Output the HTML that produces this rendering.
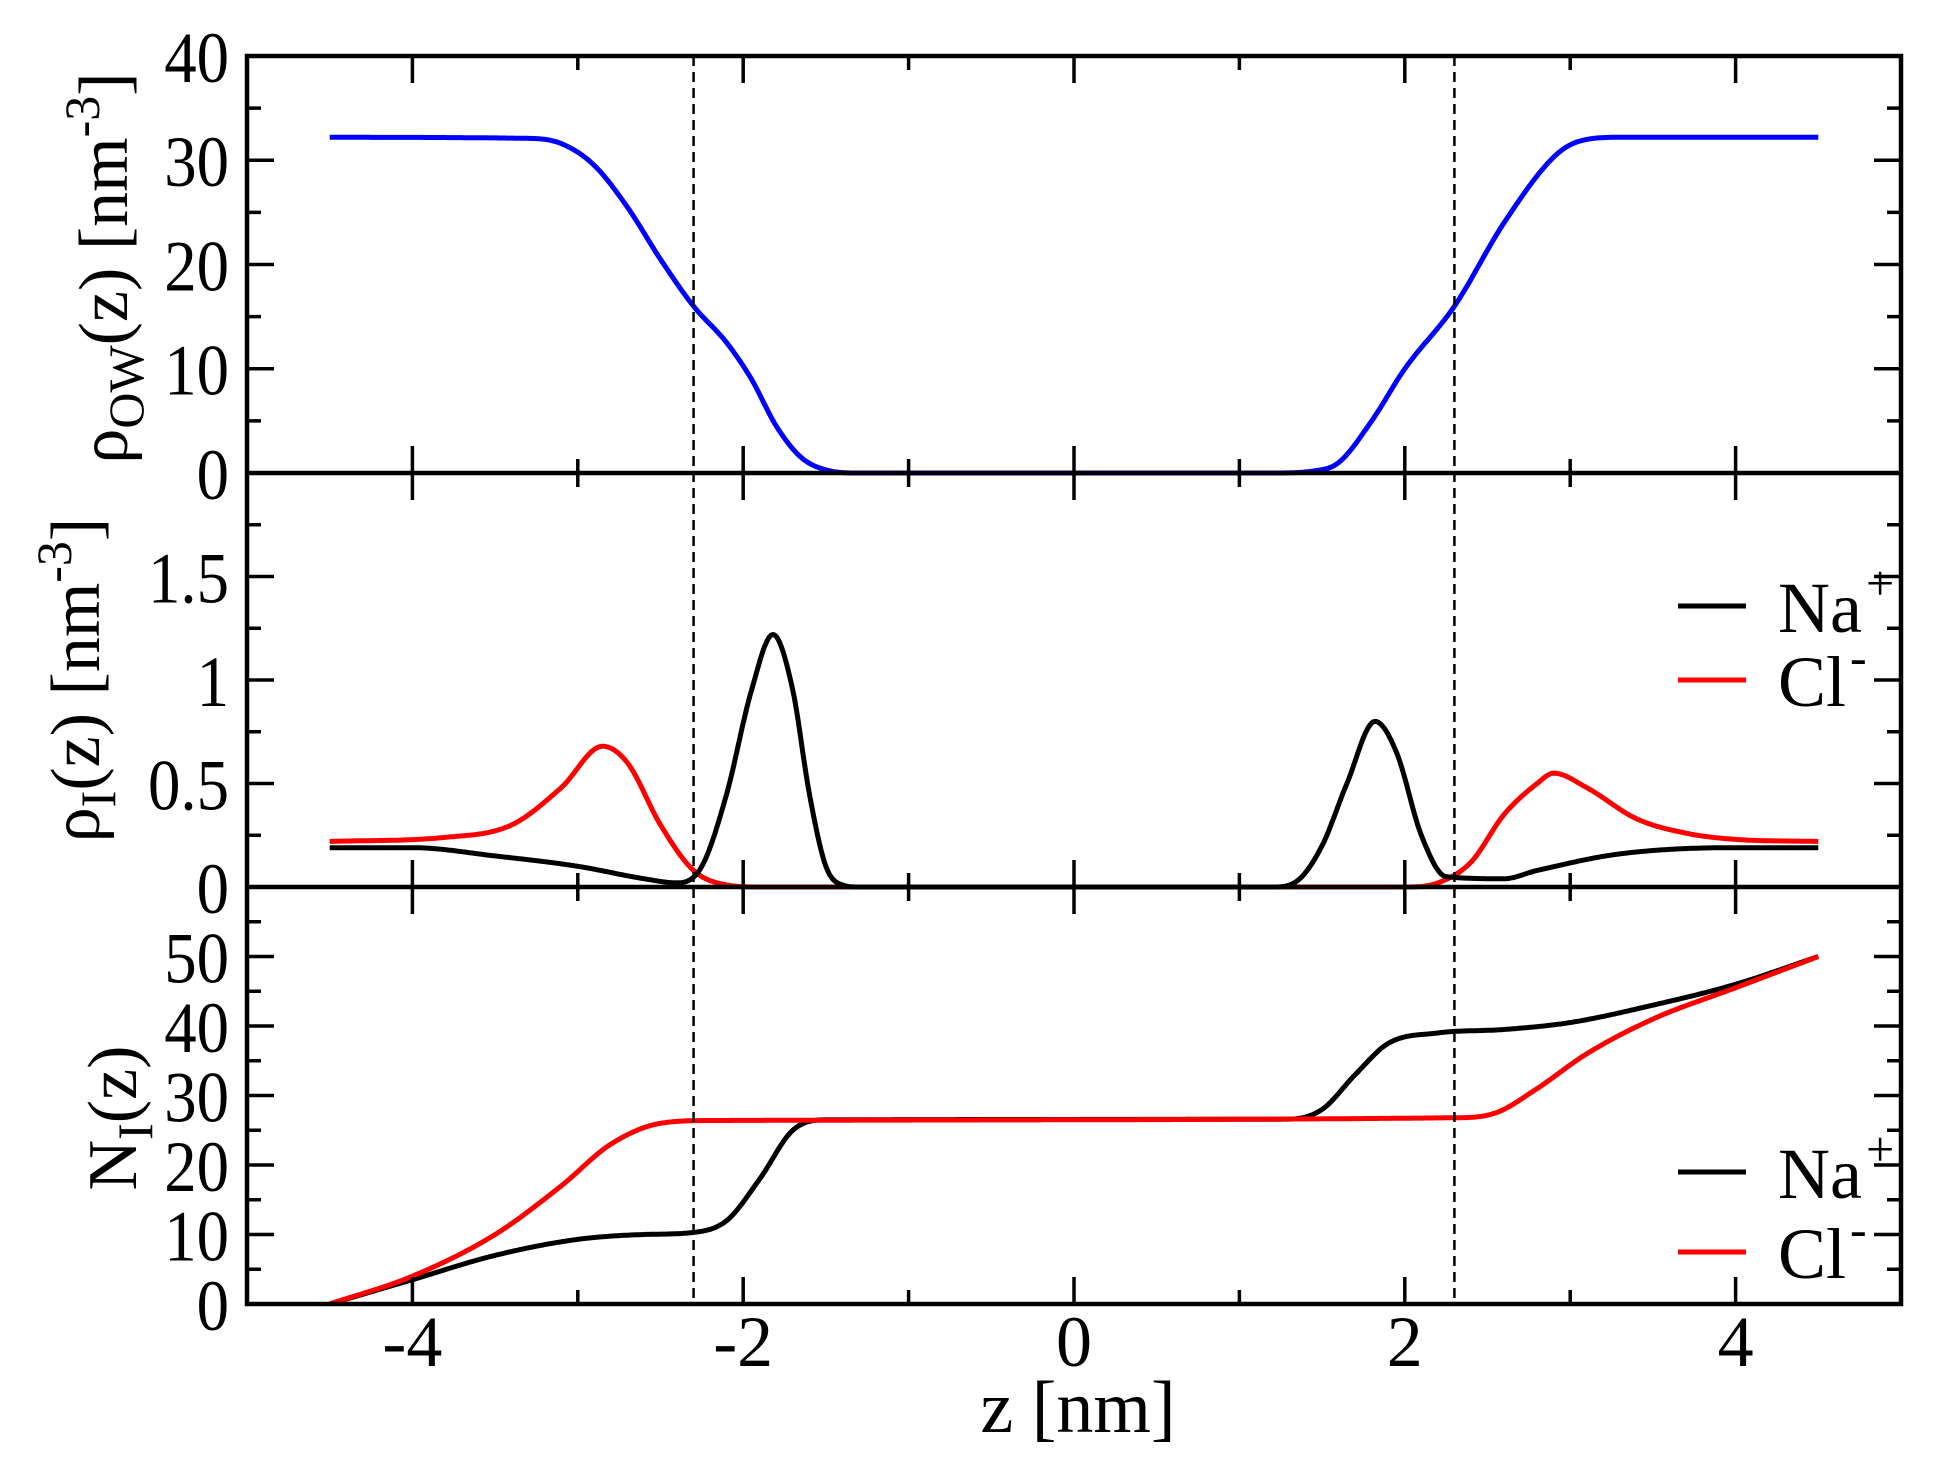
<!DOCTYPE html>
<html><head><meta charset="utf-8"><style>
html,body{margin:0;padding:0;background:#fff}
svg text{font-family:"Liberation Serif",serif;fill:#000}
</style></head><body>
<svg id="s" width="1938" height="1465" viewBox="0 0 1938 1465" xmlns="http://www.w3.org/2000/svg"></svg>
<script>
const S=document.getElementById('s');
const L=247,R=1901;
const X=z=>L+(z+5)*(R-L)/10;
const P=[{t:56,b:473,max:40},{t:473,b:887,max:2},{t:887,b:1304,max:60}];
const Y=(p,v)=>P[p].b-v/P[p].max*(P[p].b-P[p].t);
let h='';
function mono(pts){
  const n=pts.length,xs=pts.map(p=>p[0]),ys=pts.map(p=>p[1]);
  const d=[],m=[];
  for(let i=0;i<n-1;i++)d.push((ys[i+1]-ys[i])/(xs[i+1]-xs[i]));
  m[0]=d[0];m[n-1]=d[n-2];
  for(let i=1;i<n-1;i++){m[i]=(d[i-1]*d[i]<=0)?0:(d[i-1]+d[i])/2;}
  for(let i=0;i<n-1;i++){
    if(d[i]==0){m[i]=0;m[i+1]=0;continue;}
    const a=m[i]/d[i],b=m[i+1]/d[i],s=a*a+b*b;
    if(s>9){const t=3/Math.sqrt(s);m[i]=t*a*d[i];m[i+1]=t*b*d[i];}
  }
  return z=>{
    let i=0;while(i<n-2&&z>xs[i+1])i++;
    const hh=xs[i+1]-xs[i],t=(z-xs[i])/hh,t2=t*t,t3=t2*t;
    return (2*t3-3*t2+1)*ys[i]+(t3-2*t2+t)*hh*m[i]+(-2*t3+3*t2)*ys[i+1]+(t3-t2)*hh*m[i+1];
  };
}
function cr(pts,p,col){
  const f=mono(pts);let d='';
  for(let z=pts[0][0];z<=pts[pts.length-1][0]+1e-9;z+=0.01){
    let v=f(z);if(v<0)v=0;
    d+=(d?'L':'M')+X(z).toFixed(1)+' '+Y(p,v).toFixed(1);
  }
  h+=`<path d="${d}" fill="none" stroke="${col}" stroke-width="5" stroke-linejoin="round"/>`;
}
const W=[[-4.5,32.2],[-3.3,32.1],[-3.1,31.6],[-2.9,29.5],[-2.7,25.5],[-2.5,20.5],[-2.3,16],[-2.1,12.5],[-1.95,9],[-1.8,4.5],[-1.65,1.5],[-1.5,0.3],[-1.3,0],[1.2,0],[1.45,0.2],[1.6,1],[1.8,5],[2.0,10],[2.3,16],[2.6,24],[2.9,30.3],[3.05,31.8],[3.3,32.2],[4.5,32.2]];
cr(W,0,'#0000ff');
const NaD=[[-4.5,0.19],[-4,0.19],[-3.5,0.15],[-3,0.1],[-2.6,0.04],[-2.4,0.02],[-2.25,0.1],[-2.1,0.45],[-1.95,0.95],[-1.82,1.22],[-1.7,0.95],[-1.6,0.45],[-1.5,0.1],[-1.4,0.01],[-1.3,0],[1.2,0],[1.35,0.03],[1.5,0.2],[1.65,0.5],[1.82,0.8],[1.95,0.65],[2.1,0.25],[2.25,0.05],[2.6,0.04],[2.8,0.08],[3.3,0.16],[4,0.19],[4.5,0.19]];
const ClD=[[-4.5,0.22],[-3.8,0.24],[-3.4,0.3],[-3.1,0.48],[-2.85,0.68],[-2.7,0.6],[-2.5,0.3],[-2.3,0.08],[-2.1,0.01],[-1.9,0],[2.0,0],[2.2,0.02],[2.4,0.12],[2.6,0.35],[2.8,0.5],[2.9,0.55],[3.1,0.48],[3.4,0.33],[3.7,0.26],[4,0.23],[4.5,0.22]];
cr(ClD,1,'#ff0000');cr(NaD,1,'#000');
const NNa=[[-4.5,0],[-4,3.5],[-3.5,7],[-3,9.3],[-2.6,10],[-2.3,10.3],[-2.1,12],[-1.9,18],[-1.7,25],[-1.5,26.5],[1.3,26.6],[1.5,28],[1.7,33],[1.9,37.5],[2.2,39],[2.6,39.5],[3,40.5],[3.5,43],[4,46],[4.5,50]];
const NCl=[[-4.5,0],[-4,4],[-3.5,10],[-3.1,17],[-2.8,23],[-2.5,26],[-2.2,26.4],[2.3,26.8],[2.55,27.5],[2.8,31],[3.1,36],[3.5,41],[4,45.5],[4.5,50]];
cr(NNa,2,'#000');cr(NCl,2,'#ff0000');
[-2.3,2.3].forEach(z=>h+=`<line x1="${X(z)}" y1="56" x2="${X(z)}" y2="1304" stroke="#000" stroke-width="2.5" stroke-dasharray="10,6"/>`);
function yt(p,maj,min,lab){
  const m=P[p].max;
  for(let k=0;k*min<=m+1e-9;k++){
    const v=k*min;
    const isM=Math.abs(v/maj-Math.round(v/maj))<1e-6, l=isM?27:14, y=Y(p,v);
    h+=`<line x1="${L}" y1="${y}" x2="${L+l}" y2="${y}" stroke="#000" stroke-width="3.5"/><line x1="${R}" y1="${y}" x2="${R-l}" y2="${y}" stroke="#000" stroke-width="3.5"/>`;
    if(isM&&!(p>0&&v>=m-1e-9)){
      h+=`<text x="229" y="${y+26}" font-size="72" text-anchor="end" transform="translate(229 0) scale(0.9 1) translate(-229 0)">${lab(v)}</text>`;}
  }
}
yt(0,10,5,v=>v);yt(1,0.5,0.25,v=>String(v));yt(2,10,5,v=>v);
[56,473,887,1304].forEach((y,i)=>{
  for(let z=-5;z<=5;z++){
    const l=z%2==0?27:14;
    if(i>0)h+=`<line x1="${X(z)}" y1="${y}" x2="${X(z)}" y2="${y-l}" stroke="#000" stroke-width="3.5"/>`;
    if(i<3)h+=`<line x1="${X(z)}" y1="${y}" x2="${X(z)}" y2="${y+l}" stroke="#000" stroke-width="3.5"/>`;
  }
});
[-4,-2,0,2,4].forEach(z=>h+=`<text x="${X(z)}" y="1366" font-size="72" text-anchor="middle">${z}</text>`);
h+=`<rect x="${L}" y="56" width="${R-L}" height="1248" fill="none" stroke="#000" stroke-width="4.5"/>`;
h+=`<line x1="${L}" y1="473" x2="${R}" y2="473" stroke="#000" stroke-width="4.5"/><line x1="${L}" y1="887" x2="${R}" y2="887" stroke="#000" stroke-width="4.5"/>`;
h+=`<text x="1078" y="1432" font-size="74" text-anchor="middle">z [nm]</text>`;
h+=`<text transform="translate(127,268) rotate(-90)" font-size="70" text-anchor="middle">ρ<tspan font-size="50" dy="16">OW</tspan><tspan dy="-16">(z) [nm</tspan><tspan font-size="50" dy="-28">-3</tspan><tspan dy="28">]</tspan></text>`;
h+=`<text transform="translate(99,680) rotate(-90)" font-size="70" text-anchor="middle">ρ<tspan font-size="50" dy="16">I</tspan><tspan dy="-16">(z) [nm</tspan><tspan font-size="50" dy="-28">-3</tspan><tspan dy="28">]</tspan></text>`;
h+=`<text transform="translate(136,1118) rotate(-90)" font-size="70" text-anchor="middle">N<tspan font-size="50" dy="16">I</tspan><tspan dy="-16">(z)</tspan></text>`;
function leg(y1,y2){
  h+=`<line x1="1678" y1="${y1}" x2="1746" y2="${y1}" stroke="#000" stroke-width="5"/><line x1="1678" y1="${y2}" x2="1746" y2="${y2}" stroke="#ff0000" stroke-width="5"/>`;
  h+=`<text x="1778" y="${y1+26}" font-size="72">Na<tspan font-size="50" dx="4" dy="-32">+</tspan></text>`;
  h+=`<text x="1778" y="${y2+26}" font-size="72">Cl<tspan font-size="50" dx="4" dy="-32">-</tspan></text>`;
}
leg(606,680);leg(1172,1252);
S.innerHTML=h;
</script>
</body></html>
